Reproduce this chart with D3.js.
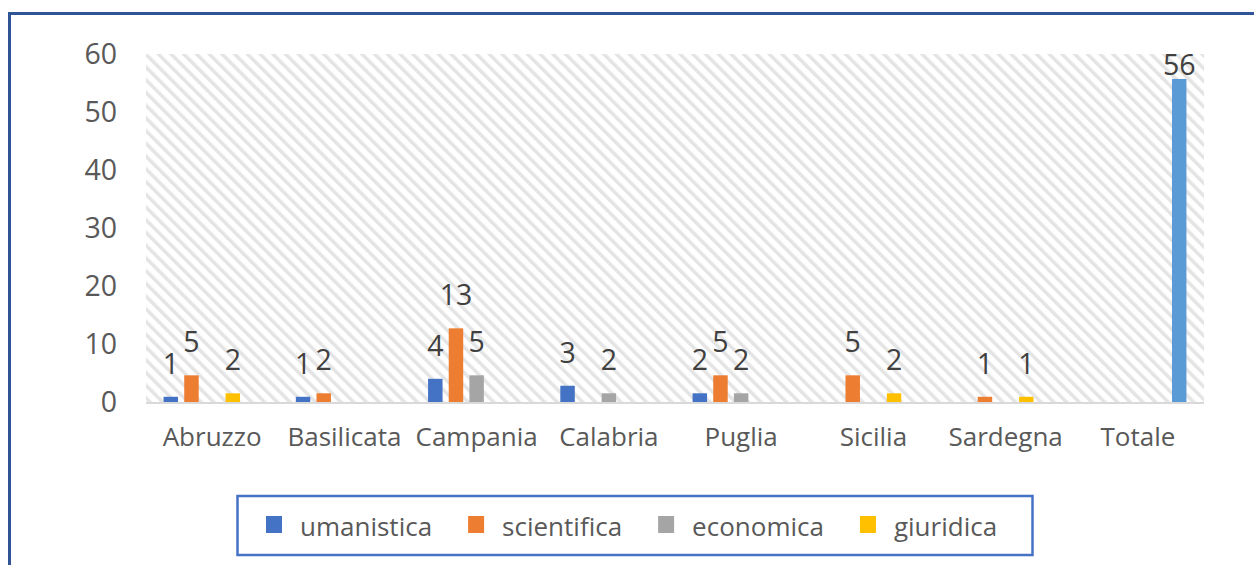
<!DOCTYPE html>
<html>
<head>
<meta charset="utf-8">
<script src="https://cdn.jsdelivr.net/npm/d3@7"></script>
<style>
  body { margin: 0; background: #fff; }
  svg { display: block; font-family: "Open Sans", sans-serif; }
</style>
</head>
<body>
<svg id="chart" width="1254" height="565"></svg>
<script>
// regions on the x axis
const categories = ["Abruzzo", "Basilicata", "Campania", "Calabria", "Puglia", "Sicilia", "Sardegna", "Totale"];
// series (the last one only holds the total, it is not in the legend)
const seriesNames = ["umanistica", "scientifica", "economica", "giuridica", "totale"];
const seriesColors = ["#4472C4", "#ED7D31", "#A5A5A5", "#FFC000", "#5B9BD5"];

// bar heights, one array per series (null = no bar)
const umanistica  = [0.9, 0.9, 4.0, 2.8, 1.5, null, null, null];
const scientifica = [4.6, 1.5, 12.7, null, 4.6, 4.6, 0.9, null];
const economica   = [null, null, 4.6, 1.5, 1.5, null, null, null];
const giuridica   = [1.5, null, null, null, null, 1.5, 0.9, null];
const totale      = [null, null, null, null, null, null, null, 55.7];

const yTicks = [0, 10, 20, 30, 40, 50, 60];

const seriesValues = [umanistica, scientifica, economica, giuridica, totale];

const svg = d3.select("#chart");

// outer frame
svg.append("rect")
  .attr("x", 9.5).attr("y", 13.5)
  .attr("width", 1300).attr("height", 600)
  .attr("fill", "none")
  .attr("stroke", "#2F5597")
  .attr("stroke-width", 3);

// hatch pattern for plot area
const defs = svg.append("defs");
const pat = defs.append("pattern")
  .attr("id", "hatch")
  .attr("patternUnits", "userSpaceOnUse")
  .attr("width", 9).attr("height", 9)
  .attr("patternTransform", "rotate(-45)");
pat.append("rect")
  .attr("width", 3.5).attr("height", 9)
  .attr("fill", "#e4e4e4");

const plot = { left: 146, right: 1204, top: 54, bottom: 402 };

const x0 = d3.scaleBand()
  .domain(categories)
  .range([plot.left, plot.right]);

const x1 = d3.scaleBand()
  .domain(seriesNames)
  .range([0, x0.bandwidth()])
  .paddingInner(0.3)
  .paddingOuter(0.85);

const y = d3.scaleLinear()
  .domain([0, 60])
  .range([plot.bottom, plot.top]);

svg.append("rect")
  .attr("x", plot.left).attr("y", plot.top)
  .attr("width", plot.right - plot.left)
  .attr("height", plot.bottom - plot.top + 2)
  .attr("fill", "url(#hatch)");

// y axis labels
const yAxis = svg.append("g")
  .attr("transform", `translate(${plot.left},0)`)
  .call(d3.axisLeft(y).tickValues(yTicks).tickSize(0).tickPadding(29));
yAxis.select(".domain").remove();
yAxis.selectAll("text")
  .attr("font-family", "Open Sans")
  .attr("font-size", 28.5)
  .attr("fill", "#595959");

// bars
const rows = [];
categories.forEach((c, i) => {
  seriesNames.forEach((s, j) => {
    const v = seriesValues[j][i];
    if (v != null) rows.push({ cat: c, series: s, idx: j, value: v });
  });
});

svg.append("g")
  .selectAll("rect")
  .data(rows)
  .join("rect")
  .attr("x", d => x0(d.cat) + x1(d.series))
  .attr("y", d => y(d.value))
  .attr("width", x1.bandwidth())
  .attr("height", d => y(0) - y(d.value))
  .attr("fill", d => seriesColors[d.idx]);

// baseline
svg.append("line")
  .attr("x1", plot.left).attr("x2", plot.right)
  .attr("y1", plot.bottom + 1).attr("y2", plot.bottom + 1)
  .attr("stroke", "#d9d9d9")
  .attr("stroke-width", 2);

// data labels
svg.append("g")
  .selectAll("text")
  .data(rows)
  .join("text")
  .attr("x", d => x0(d.cat) + x1(d.series) + x1.bandwidth() / 2)
  .attr("y", d => Math.max(y(d.value) - 23, 75))
  .attr("text-anchor", "middle")
  .attr("font-size", 28.5)
  .attr("fill", "#404040")
  .text(d => Math.round(d.value));

// category labels
const xAxis = svg.append("g")
  .attr("transform", `translate(0,${plot.bottom})`)
  .call(d3.axisBottom(x0).tickSize(0));
xAxis.select(".domain").remove();
xAxis.selectAll("text")
  .attr("font-family", "Open Sans")
  .attr("font-size", 26)
  .attr("fill", "#595959")
  .attr("y", 44)
  .attr("dy", 0);

// legend
const legend = svg.append("g");
legend.append("rect")
  .attr("x", 237.5).attr("y", 496)
  .attr("width", 795).attr("height", 59)
  .attr("fill", "#fff")
  .attr("stroke", "#4472C4")
  .attr("stroke-width", 2.5);

let lx = 266;
seriesNames.slice(0, 4).forEach((s, j) => {
  legend.append("rect")
    .attr("x", lx).attr("y", 516)
    .attr("width", 16).attr("height", 17)
    .attr("fill", seriesColors[j]);
  const t = legend.append("text")
    .attr("x", lx + 34).attr("y", 536)
    .attr("font-size", 26)
    .attr("fill", "#595959")
    .text(s);
  lx += 34 + t.node().getComputedTextLength() + 36;
});
</script>
</body>
</html>
